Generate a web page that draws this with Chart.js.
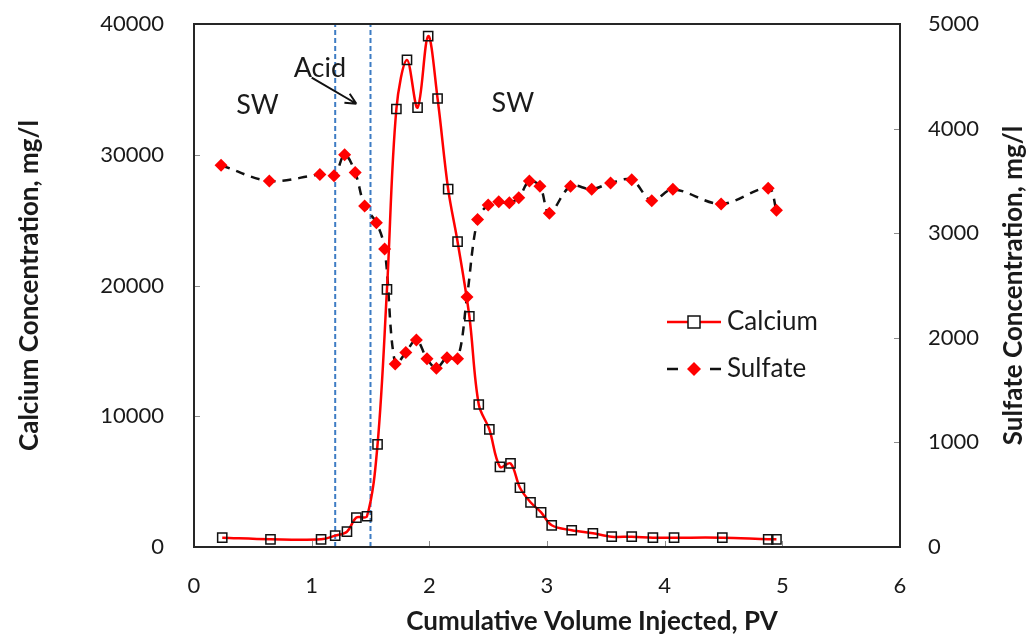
<!DOCTYPE html>
<html>
<head>
<meta charset="utf-8">
<script src="https://cdn.jsdelivr.net/npm/chart.js@4/dist/chart.umd.min.js"></script>
<style>
  html, body { margin: 0; padding: 0; background: #ffffff; }
  #wrap { width: 1032px; height: 643px; }
</style>
</head>
<body>
<div id="wrap"><canvas id="chart" width="1032" height="643"></canvas></div>
<script>
// Effluent calcium samples: cumulative volume (PV) and concentration (mg/l)
const calciumPV = [0.24, 0.65, 1.08, 1.20, 1.30, 1.38, 1.47, 1.56, 1.64, 1.72, 1.81, 1.90, 1.99, 2.07, 2.16, 2.24, 2.34, 2.42, 2.51, 2.60, 2.69, 2.77, 2.86, 2.95, 3.04, 3.21, 3.39, 3.55, 3.72, 3.90, 4.08, 4.49, 4.88, 4.95];
const calciumMgL = [710, 590, 590, 870, 1170, 2250, 2350, 7850, 19700, 33500, 37250, 33600, 39080, 34300, 27370, 23350, 17650, 10900, 8990, 6130, 6390, 4530, 3420, 2650, 1660, 1280, 1050, 790, 790, 710, 710, 710, 590, 590];

// Effluent sulfate samples: cumulative volume (PV) and concentration (mg/l)
const sulfatePV = [0.23, 0.64, 1.07, 1.19, 1.28, 1.37, 1.45, 1.55, 1.62, 1.71, 1.80, 1.89, 1.98, 2.06, 2.15, 2.24, 2.32, 2.41, 2.50, 2.59, 2.68, 2.76, 2.85, 2.94, 3.02, 3.20, 3.38, 3.54, 3.72, 3.89, 4.07, 4.48, 4.88, 4.95];
const sulfateMgL = [3650, 3500, 3560, 3550, 3750, 3580, 3260, 3100, 2850, 1750, 1860, 1980, 1800, 1710, 1810, 1800, 2390, 3130, 3270, 3300, 3290, 3340, 3500, 3450, 3190, 3450, 3420, 3480, 3510, 3310, 3420, 3280, 3430, 3220];

// Start and end of the acid slug (PV)
const acidWindowPV = [1.2, 1.5];

// Axis ranges and tick steps
const pvRange = [0, 6];
const calciumRange = [0, 40000];
const sulfateRange = [0, 5000];
const pvStep = 1;
const calciumStep = 10000;
const sulfateStep = 1000;

const FONT = 'Lato, "Open Sans", sans-serif';
const TEXT = '#1a1a1a';
const plainNumber = v => String(v);

const toPoints = (xs, ys) => xs.map((x, i) => ({ x, y: ys[i] }));

// Frame around the plot area plus inward tick marks on every axis
const framePlugin = {
  id: 'frame',
  afterDatasetsDraw(chart) {
    const { ctx, chartArea: a, scales } = chart;
    ctx.save();
    ctx.strokeStyle = '#8c8c8c';
    ctx.lineWidth = 1;
    const len = 6;
    ctx.beginPath();
    scales.x.ticks.forEach(t => {
      const px = Math.round(scales.x.getPixelForValue(t.value)) + 0.5;
      ctx.moveTo(px, a.bottom); ctx.lineTo(px, a.bottom - len);
    });
    scales.y.ticks.forEach(t => {
      const py = Math.round(scales.y.getPixelForValue(t.value)) + 0.5;
      ctx.moveTo(a.left, py); ctx.lineTo(a.left + len, py);
    });
    scales.y2.ticks.forEach(t => {
      const py = Math.round(scales.y2.getPixelForValue(t.value)) + 0.5;
      ctx.moveTo(a.right, py); ctx.lineTo(a.right - len, py);
    });
    ctx.stroke();
    ctx.strokeStyle = '#262626';
    ctx.lineWidth = 2;
    ctx.strokeRect(a.left, a.top, a.right - a.left, a.bottom - a.top);
    ctx.restore();
  }
};

// Bottom title and the right axis title (read bottom-to-top)
const titlesPlugin = {
  id: 'axisTitles',
  afterDraw(chart) {
    const { ctx, chartArea: a } = chart;
    ctx.save();
    ctx.font = 'bold 26px ' + FONT;
    ctx.fillStyle = TEXT;
    ctx.textAlign = 'center';
    ctx.textBaseline = 'middle';
    ctx.fillText('Cumulative Volume Injected, PV', 592, 622);
    ctx.translate(1014, (a.top + a.bottom) / 2);
    ctx.rotate(-Math.PI / 2);
    ctx.fillText('Sulfate Concentration, mg/l', 0, 0);
    ctx.restore();
  }
};

// Region labels and the arrow pointing at the acid slug
const notesPlugin = {
  id: 'notes',
  afterDatasetsDraw(chart) {
    const { ctx, scales: { x, y } } = chart;
    ctx.save();
    ctx.font = '27px ' + FONT;
    ctx.fillStyle = TEXT;
    ctx.textAlign = 'center';
    ctx.textBaseline = 'middle';
    ctx.fillText('SW', x.getPixelForValue(0.54), y.getPixelForValue(33800));
    ctx.fillText('Acid', x.getPixelForValue(1.07), y.getPixelForValue(36600));
    ctx.fillText('SW', x.getPixelForValue(2.71), y.getPixelForValue(33900));
    const x0 = x.getPixelForValue(1.0), y0 = y.getPixelForValue(35900);
    const x1 = x.getPixelForValue(1.38), y1 = y.getPixelForValue(33900);
    ctx.strokeStyle = '#111';
    ctx.lineWidth = 2;
    ctx.beginPath();
    ctx.moveTo(x0, y0); ctx.lineTo(x1, y1);
    const ang = Math.atan2(y1 - y0, x1 - x0);
    const h = 12;
    ctx.moveTo(x1, y1); ctx.lineTo(x1 - h * Math.cos(ang - 0.45), y1 - h * Math.sin(ang - 0.45));
    ctx.moveTo(x1, y1); ctx.lineTo(x1 - h * Math.cos(ang + 0.45), y1 - h * Math.sin(ang + 0.45));
    ctx.stroke();
    ctx.restore();
  }
};

// Legend box inside the plot area
const legendPlugin = {
  id: 'insideLegend',
  afterDraw(chart) {
    const { ctx } = chart;
    const ca = chart.data.datasets[0];
    const su = chart.data.datasets[1];
    ctx.save();
    ctx.font = '26px ' + FONT;
    ctx.fillStyle = TEXT;
    ctx.textBaseline = 'middle';
    ctx.textAlign = 'left';
    // Calcium entry
    let yy = 322;
    ctx.strokeStyle = ca.borderColor; ctx.lineWidth = ca.borderWidth;
    ctx.beginPath(); ctx.moveTo(667, yy); ctx.lineTo(721, yy); ctx.stroke();
    ctx.strokeStyle = ca.pointBorderColor; ctx.lineWidth = 1.5;
    ctx.fillStyle = '#fff';
    ctx.fillRect(688, yy - 6, 12, 12);
    ctx.strokeRect(688, yy - 6, 12, 12);
    ctx.fillStyle = TEXT;
    ctx.fillText('Calcium', 727, yy);
    // Sulfate entry
    yy = 369;
    ctx.strokeStyle = su.borderColor; ctx.lineWidth = su.borderWidth;
    ctx.beginPath(); ctx.moveTo(667, yy); ctx.lineTo(678, yy); ctx.moveTo(710, yy); ctx.lineTo(721, yy); ctx.stroke();
    ctx.fillStyle = su.pointBackgroundColor;
    ctx.beginPath();
    ctx.moveTo(694, yy - 7); ctx.lineTo(701, yy); ctx.lineTo(694, yy + 7); ctx.lineTo(687, yy);
    ctx.closePath(); ctx.fill();
    ctx.fillStyle = TEXT;
    ctx.fillText('Sulfate', 727, yy);
    ctx.restore();
  }
};

// Vertical axes keep the plot box fixed: no extra room for half tick labels
const fixVertical = width => s => { s.width = width; s.paddingTop = 0; s.paddingBottom = 0; };

new Chart(document.getElementById('chart'), {
  type: 'line',
  data: {
    datasets: [
      {
        label: 'Calcium',
        data: toPoints(calciumPV, calciumMgL),
        yAxisID: 'y',
        borderColor: '#ff0000',
        borderWidth: 2.5,
        tension: 0.35,
        pointStyle: 'rect',
        pointRadius: 6.5,
        pointBorderWidth: 1.5,
        pointBorderColor: '#111111',
        pointBackgroundColor: 'rgba(255,255,255,0)',
        order: 1
      },
      {
        label: 'Sulfate',
        data: toPoints(sulfatePV, sulfateMgL),
        yAxisID: 'y2',
        borderColor: '#111111',
        borderWidth: 2.5,
        borderDash: [9, 7],
        tension: 0.35,
        pointStyle: 'rectRot',
        pointRadius: 6.5,
        pointBorderWidth: 0,
        pointBorderColor: '#ff0000',
        pointBackgroundColor: '#ff0000',
        order: 2
      },
      {
        label: 'acid start',
        data: [{ x: acidWindowPV[0], y: calciumRange[0] }, { x: acidWindowPV[0], y: calciumRange[1] }],
        yAxisID: 'y',
        borderColor: '#3d7cc4',
        borderWidth: 2,
        borderDash: [5, 3],
        pointRadius: 0,
        order: 3
      },
      {
        label: 'acid end',
        data: [{ x: acidWindowPV[1], y: calciumRange[0] }, { x: acidWindowPV[1], y: calciumRange[1] }],
        yAxisID: 'y',
        borderColor: '#3d7cc4',
        borderWidth: 2,
        borderDash: [5, 3],
        pointRadius: 0,
        order: 3
      }
    ]
  },
  options: {
    responsive: false,
    animation: false,
    layout: { padding: { top: 24, left: 0, right: 0, bottom: 0 } },
    plugins: { legend: { display: false }, tooltip: { enabled: false } },
    scales: {
      x: {
        type: 'linear',
        min: pvRange[0], max: pvRange[1],
        grid: { display: false },
        border: { display: false },
        ticks: { stepSize: pvStep, padding: 18, color: TEXT, font: { family: FONT, size: 22 }, callback: plainNumber },
        afterFit: s => { s.height = 96; }
      },
      y: {
        position: 'left',
        min: calciumRange[0], max: calciumRange[1],
        grid: { display: false },
        border: { display: false },
        ticks: { stepSize: calciumStep, padding: 22, color: TEXT, font: { family: FONT, size: 22 }, callback: plainNumber },
        title: { display: true, text: 'Calcium Concentration, mg/l', color: TEXT, font: { family: FONT, size: 26, weight: 'bold' }, padding: { top: 14 } },
        afterFit: fixVertical(194)
      },
      y2: {
        position: 'right',
        min: sulfateRange[0], max: sulfateRange[1],
        grid: { display: false },
        border: { display: false },
        ticks: { stepSize: sulfateStep, padding: 20, color: TEXT, font: { family: FONT, size: 22 }, callback: plainNumber },
        afterFit: fixVertical(132)
      }
    }
  },
  plugins: [framePlugin, notesPlugin, legendPlugin, titlesPlugin]
});
</script>
</body>
</html>
